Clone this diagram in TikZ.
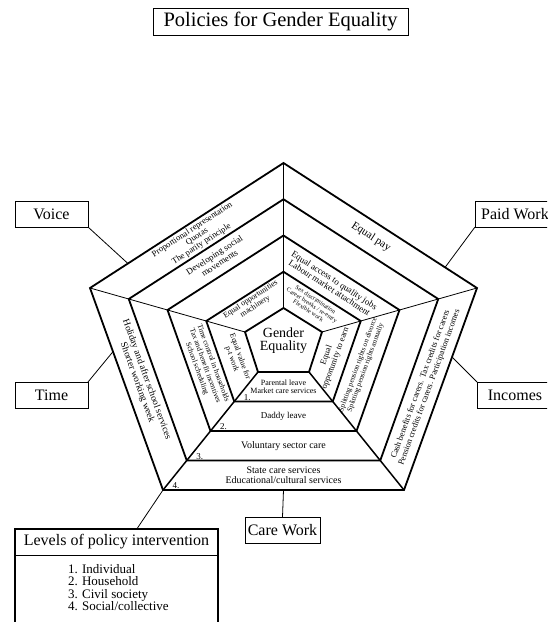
\documentclass[tikz,border=0pt]{standalone}
\usepackage{fontspec}
\setmainfont{Liberation Serif}
\usetikzlibrary{calc,positioning}
\newcommand{\txtsize}[2]{\fontsize{#1}{#2}\selectfont}

\begin{document}
\begin{tikzpicture}[x=1pt, y=-1pt,
  every node/.style = {align=center, inner sep=0pt, outer sep=0pt},
  ring edge/.style = {line width=1.8pt, line join=miter},
  spoke edge/.style = {line width=0.8pt},
  label box/.style = {draw, line width=0.8pt, minimum height=26pt, font=\txtsize{16}{18}},
  link edge/.style = {line width=0.8pt}]
\useasboundingbox (0,0) rectangle (547,622);
\clip (0,0) rectangle (547,622);
% corners of the five pentagons: 0 top, 1 right, 2 lower right, 3 lower left, 4 left
\foreach \k in {0,...,4}
  { \coordinate (\k;0) at (283.5, 308-36.25*\k);
    \coordinate (\k;1) at (322+38.75*\k, 332-11*\k);
    \coordinate (\k;2) at (309+23.75*\k, 372+29.5*\k);
    \coordinate (\k;3) at (258-23.75*\k, 372+29.5*\k);
    \coordinate (\k;4) at (245-38.75*\k, 332-11*\k); }
\foreach \s in {0,1,4}
  { \draw[spoke edge] (0;\s) -- (4;\s); }
\foreach \s in {2,3}
  { \draw[spoke edge, line width=1.5pt] (0;\s) -- (4;\s); }
\foreach \k in {0,...,4}
  { \draw[ring edge] (\k;0) -- (\k;1) -- (\k;2) -- (\k;3) -- (\k;4) -- cycle; }

\node[font=\txtsize{14}{13}] (core) at (283.5,341) {Gender\\Equality};
% voice
\node[rotate=33, font=\txtsize{8.6}{8.6}] (voice4) at (197,237) {Proportional representation\\Quotas\\The parity principle};
\node[rotate=33, font=\txtsize{9}{9.5}] (voice3) at (217,259) {Developing social\\movements};
\node[rotate=33, font=\txtsize{8}{8.5}] (voice1) at (253,303) {Equal opportunities\\machinery};
% paid work
\node[rotate=-33, font=\txtsize{11}{12}] (paid4) at (371,237) {Equal pay};
\node[rotate=-33, font=\txtsize{9}{9}] (paid2) at (332,284) {Equal access to quality jobs\\Labour market attachment};
\node[rotate=-33, font=\txtsize{6.2}{6.6}] (paid1) at (312,305) {Sex discrimination\\Career breaks / re-entry\\Flexible work};
% incomes
\node[rotate=70, font=\txtsize{8.5}{9.5}] (incomes1) at (331,357) {Equal\\opportunity to earn};
\node[rotate=70, font=\txtsize{7.2}{8}] (incomes2) at (362,366) {Splitting pension rights on divorce\\Splitting pension rights annually};
\node[rotate=70, font=\txtsize{8.5}{9.5}] (incomes4) at (425,386) {Cash benefits for carers. Tax credits for carers\\Pension credits for carers. Participation incomes};
% time
\node[rotate=-70, font=\txtsize{7.8}{8.5}] (time1) at (236,358) {Equal value for\\p-t work};
\node[rotate=-70, font=\txtsize{7.5}{8.5}] (time2) at (205,366) {Time control in households\\Tax and benefit incentives\\School scheduling};
\node[rotate=-70, font=\txtsize{9.5}{10}] (time4) at (142,381) {Holiday and after school services\\Shorter working week};
% care work
\node[font=\txtsize{8}{8.5}] (care1) at (283.5,387) {Parental leave\\Market care services};
\node[font=\txtsize{9}{10}] (care2) at (283.5,416) {Daddy leave};
\node[font=\txtsize{10}{11}] (care3) at (283.5,446) {Voluntary sector care};
\node[font=\txtsize{10}{10}] (care4) at (283.5,475) {State care services\\Educational/cultural services};
\foreach \k in {1,...,4}
  { \node[font=\txtsize{9}{10}] (num\k) at ($(\k;3)+(13,-4)$) {\k.}; }

\node[label box, minimum width=255pt, minimum height=27pt, font=\txtsize{20.5}{22}] (title) at (280.5,21.5) {Policies for Gender Equality};
\node[label box, minimum width=73pt] (voice) at (51.5,214) {Voice};
\node[label box, minimum width=73pt] (time) at (51.5,395) {Time};
\node[label box, minimum width=80pt] (paid) at (515,214) {Paid Work};
\node[label box, minimum width=76pt] (incomes) at (515,395) {Incomes};
\node[label box, minimum width=75pt] (care) at (282.5,530) {Care Work};
\node[draw, line width=1.8pt, minimum width=203pt, minimum height=110pt, anchor=north] (levelframe) at (116.5,529) {};
\node[label box, minimum width=203pt] (levels) at (116.5,542) {Levels of policy intervention};
\node[anchor=north west, align=left, font=\txtsize{13}{12.5}] (levelitems) at (68,564) {1. Individual\\2. Household\\3. Civil society\\4. Social/collective};

\coordinate (voice end) at ($(4;4)!0.196!(4;0)$);
\coordinate (time end) at ($(4;4)!0.315!(4;3)$);
\coordinate (paid end) at ($(4;0)!0.835!(4;1)$);
\coordinate (incomes end) at ($(4;1)!0.342!(4;2)$);
\coordinate (care end) at ($(4;3)!0.5!(4;2)$);
\coordinate (levels end) at ($(levels.north west)!0.6!(levels.north east)$);
\draw[link edge] (voice.south east) -- (voice end);
\draw[link edge] (time.north east) -- (time end);
\draw[link edge] (paid.south west) -- (paid end);
\draw[link edge] (incomes.north west) -- (incomes end);
\draw[link edge] (care.north) -- (care end);
\draw[link edge] (4;3) -- (levels end);
\end{tikzpicture}
\end{document}
